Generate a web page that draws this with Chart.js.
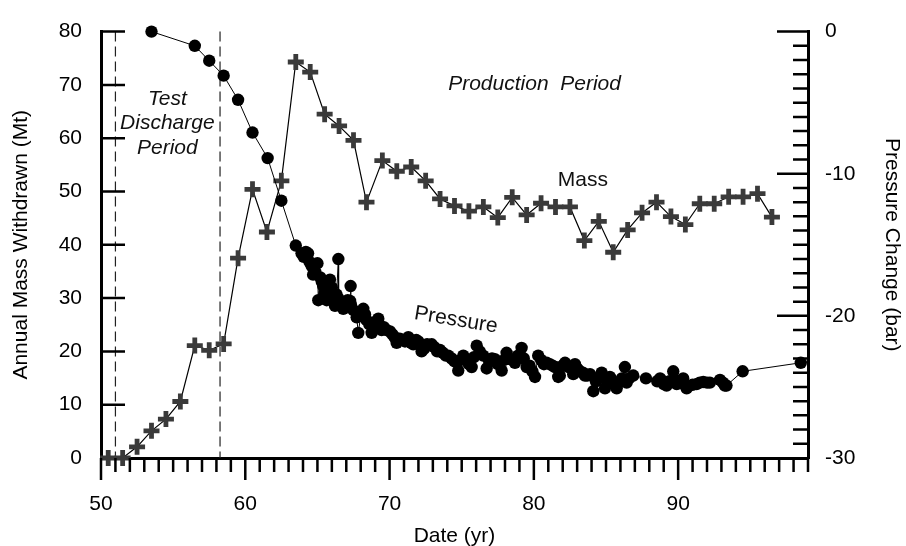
<!DOCTYPE html>
<html>
<head>
<meta charset="utf-8">
<script src="https://cdn.jsdelivr.net/npm/chart.js@4/dist/chart.umd.min.js"></script>
<style>
  html, body { margin: 0; padding: 0; background: #fff; }
  #wrap { width: 906px; height: 546px; }
</style>
</head>
<body>
<div id="wrap"><canvas id="chart"></canvas></div>
<script>
// annual mass withdrawn (Mt), plotted at mid-year
const massYears = [
  50.5, 51.5, 52.5, 53.5, 54.5, 55.5, 56.5, 57.5, 58.5, 59.5,
  60.5, 61.5, 62.5, 63.5, 64.5, 65.5, 66.5, 67.5, 68.4, 69.5,
  70.5, 71.5, 72.5, 73.5, 74.5, 75.5, 76.5, 77.5, 78.5, 79.5,
  80.5, 81.5, 82.5, 83.5, 84.5, 85.5, 86.5, 87.5, 88.5, 89.5,
  90.5, 91.5, 92.5, 93.5, 94.5, 95.5, 96.5
];
const massValues = [
  0, 0, 2.1, 5.1, 7.3, 10.6, 21.1, 20.2, 21.4, 37.5,
  50.4, 42.4, 52.0, 74.3, 72.4, 64.5, 62.3, 59.6, 48.0, 55.8,
  53.8, 54.6, 52.0, 48.6, 47.3, 46.3, 47.1, 45.1, 48.9, 45.6,
  47.8, 47.1, 47.1, 40.8, 44.4, 38.6, 42.8, 46.0, 48.0, 45.3,
  43.8, 47.7, 47.7, 49.0, 49.0, 49.6, 45.2
];

// pressure change (bar)
const pressureYears = [
  53.5, 56.5, 57.5, 58.5, 59.5, 60.5, 61.55, 62.5, 63.5,
  63.9, 64.05, 64.2, 64.35, 64.45, 64.6, 64.7, 64.85, 65.0, 65.06,
  65.2, 65.3, 65.4, 65.5, 65.64, 65.75, 65.87, 66.0, 66.1, 66.22,
  66.33, 66.45, 66.47, 66.6, 66.79, 66.95, 67.1, 67.26, 67.3, 67.32,
  67.5, 67.72, 67.83, 68.0, 68.18, 68.3, 68.41, 68.6, 68.76, 68.9,
  69.05, 69.22, 69.35, 69.45, 69.6, 69.8, 70.03, 70.2, 70.35, 70.49,
  70.7, 70.9, 71.07, 71.3, 71.5, 71.64, 71.85, 71.99, 72.22, 72.4,
  72.6, 72.92, 73.1, 73.3, 73.49, 73.7, 73.9, 74.07, 74.3, 74.5,
  74.76, 74.95, 75.11, 75.3, 75.5, 75.69, 75.85, 76.04, 76.25, 76.49,
  76.73, 76.9, 77.1, 77.3, 77.5, 77.77, 77.95, 78.11, 78.3, 78.5,
  78.69, 78.9, 79.15, 79.3, 79.5, 79.7, 79.9, 80.08, 80.3, 80.5,
  80.7, 80.89, 81.1, 81.3, 81.46, 81.69, 81.8, 82.0, 82.16, 82.4,
  82.6, 82.73, 82.85, 83.0, 83.2, 83.4, 83.54, 83.7, 83.89, 84.12,
  84.3, 84.5, 84.7, 84.93, 85.1, 85.27, 85.5, 85.74, 85.9, 86.1,
  86.31, 86.35, 86.43, 86.6, 86.89, 87.77, 88.55, 88.75, 88.86, 89.0,
  89.2, 89.4, 89.66, 89.72, 89.9, 90.1, 90.35, 90.5, 90.59, 91.0,
  91.28, 91.5, 91.74, 92.0, 92.2, 92.9, 93.1, 93.24, 93.35, 94.47,
  98.5
];
const pressureValues = [
  0.0, -1.0, -2.05, -3.1, -4.8, -7.1, -8.9, -11.9, -15.05,
  -15.6, -15.85, -15.5, -15.6, -16.2, -16.5, -17.1, -16.9, -16.3, -18.9,
  -17.3, -17.6, -17.9, -18.4, -18.9, -18.25, -17.45, -18.0, -18.6, -19.3,
  -18.5, -16.0, -18.8, -19.1, -19.5, -19.2, -18.9, -18.95, -17.9, -19.2,
  -19.6, -20.1, -21.2, -20.0, -19.5, -19.9, -20.3, -20.6, -21.2, -20.5,
  -20.4, -20.2, -20.7, -21.0, -20.8, -21.0, -21.1, -21.3, -21.5, -21.9,
  -21.6, -21.7, -21.8, -21.5, -21.9, -22.0, -21.7, -21.8, -22.5, -22.3,
  -22.0, -22.0, -22.2, -22.5, -22.4, -22.6, -22.8, -22.8, -23.0, -23.2,
  -23.85, -23.1, -22.8, -23.1, -23.4, -23.6, -22.9, -22.1, -22.5, -22.8,
  -23.7, -23.2, -23.0, -23.05, -23.4, -23.85, -23.1, -22.6, -23.0, -23.1,
  -23.3, -22.8, -22.25, -23.0, -23.6, -23.5, -23.9, -24.3, -22.8, -23.1,
  -23.4, -23.3, -23.4, -23.5, -23.6, -24.3, -24.2, -23.5, -23.3, -23.6,
  -23.6, -24.1, -23.4, -23.7, -23.9, -24.0, -24.2, -24.2, -24.1, -25.3,
  -24.6, -24.4, -24.0, -25.1, -24.6, -24.3, -24.7, -25.1, -24.7, -24.4,
  -23.6, -24.5, -24.7, -24.4, -24.2, -24.4, -24.6, -24.4, -24.55, -24.8,
  -24.9, -24.6, -23.9, -24.5, -24.8, -24.6, -24.4, -24.9, -25.1, -24.85,
  -24.8, -24.7, -24.65, -24.7, -24.7, -24.5, -24.7, -24.9, -24.9, -23.9,
  -23.3
];

const periodBounds = [51.0, 58.25];
const testLabel = ['Test', 'Discharge', 'Period'];

const FONT = '"Liberation Sans", Arial, sans-serif';

// inward/outward tick marks, major and minor
const tickMarks = {
  id: 'tickMarks',
  afterDraw(chart) {
    const { ctx, chartArea: a, scales: { x, y, y2 } } = chart;
    ctx.save();
    ctx.strokeStyle = '#000';
    ctx.lineWidth = 2.5;
    ctx.beginPath();
    for (let v = 50; v <= 99; v++) {
      const px = x.getPixelForValue(v);
      const len = v % 10 === 0 ? 22 : 14;
      ctx.moveTo(px, a.bottom);
      ctx.lineTo(px, a.bottom + len);
    }
    for (let v = 10; v <= 80; v += 10) {
      const py = y.getPixelForValue(v);
      ctx.moveTo(a.left, py);
      ctx.lineTo(a.left + 24, py);
    }
    for (let v = -29; v <= 0; v++) {
      const py = y2.getPixelForValue(v);
      const len = v % 10 === 0 ? 31 : 15;
      ctx.moveTo(a.right, py);
      ctx.lineTo(a.right - len, py);
    }
    ctx.stroke();
    ctx.restore();
  }
};

// dashed period boundaries + text annotations
const annotations = {
  id: 'annotations',
  beforeDatasetsDraw(chart) {
    const { ctx, chartArea: a, scales: { x } } = chart;
    ctx.save();
    ctx.strokeStyle = '#222';
    ctx.lineWidth = 1.2;
    ctx.setLineDash([10, 5]);
    periodBounds.forEach(v => {
      const px = x.getPixelForValue(v);
      ctx.beginPath();
      ctx.moveTo(px, a.top);
      ctx.lineTo(px, a.bottom);
      ctx.stroke();
    });
    ctx.restore();
  },
  afterDatasetsDraw(chart) {
    const { ctx, scales: { x, y, y2 } } = chart;
    ctx.save();
    ctx.fillStyle = '#111';
    ctx.textAlign = 'center';
    ctx.textBaseline = 'middle';
    ctx.font = 'italic 21px ' + FONT;
    const tx = x.getPixelForValue(54.6);
    [67.4, 62.8, 58.1].forEach((v, i) => ctx.fillText(testLabel[i], tx, y.getPixelForValue(v)));
    ctx.fillText('Production  Period', x.getPixelForValue(80.05), y.getPixelForValue(70.1));
    ctx.font = '21px ' + FONT;
    ctx.fillText('Mass', x.getPixelForValue(83.4), y.getPixelForValue(52.1));
    ctx.translate(x.getPixelForValue(74.6), y2.getPixelForValue(-20.3));
    ctx.rotate(0.165);
    ctx.fillText('Pressure', 0, 0);
    ctx.restore();
  }
};

const axisFont = { family: FONT, size: 21 };
const titleFont = { family: FONT, size: 21, lineHeight: 0.9 };

new Chart(document.getElementById('chart'), {
  type: 'line',
  data: {
    datasets: [
      {
        label: 'Pressure',
        data: pressureYears.map((t, i) => ({ x: t, y: pressureValues[i] })),
        yAxisID: 'y2',
        borderColor: '#000',
        borderWidth: 1,
        pointRadius: 6.2,
        pointBackgroundColor: '#000',
        pointBorderWidth: 0,
        tension: 0,
        clip: false,
      },
      {
        label: 'Mass',
        data: massYears.map((t, i) => ({ x: t, y: massValues[i] })),
        yAxisID: 'y',
        borderColor: '#000',
        borderWidth: 1.2,
        pointStyle: 'cross',
        pointRadius: 8,
        pointBorderWidth: 4.8,
        pointBorderColor: '#3a3a3a',
        tension: 0,
        clip: false,
      }
    ]
  },
  options: {
    responsive: true,
    maintainAspectRatio: false,
    animation: false,
    events: [],
    layout: { padding: { top: 21, left: 0, right: 0, bottom: 0 } },
    plugins: {
      legend: { display: false },
      tooltip: { enabled: false }
    },
    scales: {
      x: {
        type: 'linear',
        position: 'bottom',
        min: 50,
        max: 99,
        border: { display: true, color: '#000', width: 3 },
        grid: { drawOnChartArea: false, drawTicks: false },
        ticks: { stepSize: 10, includeBounds: false, color: '#000', font: axisFont, padding: 34, maxRotation: 0 },
        title: { display: true, text: 'Date (yr)', color: '#000', font: titleFont, padding: 0 },
        afterFit: s => { s.height = 88; }
      },
      y: {
        position: 'left',
        min: 0,
        max: 80,
        border: { display: true, color: '#000', width: 3 },
        grid: { drawOnChartArea: false, drawTicks: false },
        ticks: { stepSize: 10, color: '#000', font: axisFont, padding: 19 },
        title: { display: true, text: 'Annual Mass Withdrawn (Mt)', color: '#000', font: titleFont, padding: { top: 12 } },
        afterFit: s => { s.width = 101; }
      },
      y2: {
        position: 'right',
        min: -30,
        max: 0,
        border: { display: true, color: '#000', width: 3 },
        grid: { drawOnChartArea: false, drawTicks: false },
        ticks: { stepSize: 10, color: '#000', font: axisFont, padding: 17 },
        title: { display: true, text: 'Pressure Change (bar)', color: '#000', font: titleFont, padding: { top: 5 } },
        afterFit: s => { s.width = 98; }
      }
    }
  },
  plugins: [tickMarks, annotations]
});
</script>
</body>
</html>
